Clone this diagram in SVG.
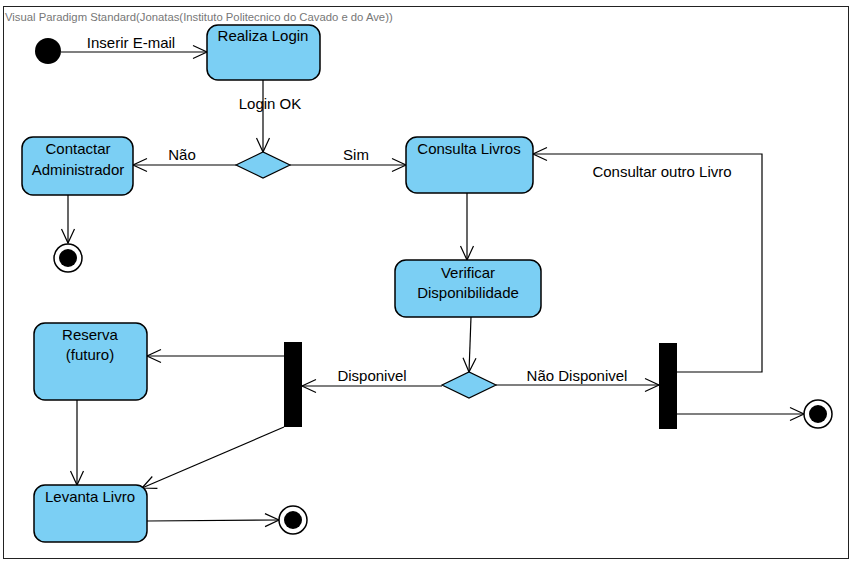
<svg xmlns="http://www.w3.org/2000/svg" width="853" height="565" viewBox="0 0 853 565">
<defs>
<style>
.act{fill:#7bcff4;stroke:#000;stroke-width:1.5}
.dec{fill:#7bcff4;stroke:#000;stroke-width:1.2}
.bar{fill:#000}
.t{font-family:"Liberation Sans",Arial,sans-serif;font-size:15px;fill:#000;text-anchor:middle}
.e{fill:none;stroke:#000;stroke-width:1.2;marker-end:url(#a)}
.fo{fill:#fff;stroke:#000;stroke-width:1.5}
</style>
<marker id="a" viewBox="-16 -8 18 16" refX="0" refY="0" markerWidth="18" markerHeight="16" markerUnits="userSpaceOnUse" orient="auto">
<path d="M-14,-6.5 L0,0 L-14,6.5" fill="none" stroke="#000" stroke-width="1.2"/>
</marker>
</defs>
<rect width="853" height="565" fill="#fff"/>
<rect x="3.5" y="6.5" width="845" height="552" fill="none" stroke="#222" stroke-width="1"/>
<text x="5" y="21" font-family="Liberation Sans,Arial,sans-serif" font-size="11.3" fill="#777">Visual Paradigm Standard(Jonatas(Instituto Politecnico do Cavado e do Ave))</text>

<g id="connectors">
<path class="e" d="M61,52 L207,52"/>
<path class="e" d="M263,80 L263,152"/>
<path class="e" d="M236,165 L133,165"/>
<path class="e" d="M290,165 L406,165"/>
<path class="e" d="M68,195 L68,243"/>
<path class="e" d="M467,193 L467,260"/>
<path class="e" d="M471,317 L469,372"/>
<path class="e" d="M496,385 L659,385"/>
<path class="e" d="M442,386 L302,386"/>
<path class="e" d="M677,372 L762,372 L762,154 L533,154"/>
<path class="e" d="M677,414 L804,414"/>
<path class="e" d="M284,356 L147,356"/>
<path class="e" d="M284,427 L142,488"/>
<path class="e" d="M77,400 L77,485"/>
<path class="e" d="M147,521 L279,520"/>
<text class="t" x="131" y="48">Inserir E-mail</text>
<text class="t" x="270" y="109">Login OK</text>
<text class="t" x="182" y="160">Não</text>
<text class="t" x="356" y="160">Sim</text>
<text class="t" x="662" y="177">Consultar outro Livro</text>
<text class="t" x="372" y="381">Disponivel</text>
<text class="t" x="577" y="381">Não Disponivel</text>
</g>

<g id="start"><circle cx="48" cy="51" r="13" fill="#000"/></g>

<g id="realiza-login"><rect class="act" x="207" y="25" width="113" height="55" rx="11"/><text class="t" x="263" y="41">Realiza Login</text></g>

<g id="decision-login"><path class="dec" d="M236,165 L263,152 L290,165 L263,178 Z"/></g>

<g id="contactar-admin"><rect class="act" x="22" y="137" width="111" height="58" rx="11"/><text class="t" x="78" y="154">Contactar</text><text class="t" x="78" y="175">Administrador</text></g>

<g id="final-1"><circle class="fo" cx="68" cy="258" r="14"/><circle cx="68" cy="258" r="9" fill="#000"/></g>

<g id="consulta-livros"><rect class="act" x="406" y="137" width="127" height="56" rx="11"/><text class="t" x="469" y="154">Consulta Livros</text></g>

<g id="verificar"><rect class="act" x="395" y="260" width="146" height="57" rx="11"/><text class="t" x="468" y="278">Verificar</text><text class="t" x="468" y="298">Disponibilidade</text></g>

<g id="decision-disp"><path class="dec" d="M442,385 L469,372 L496,385 L469,398 Z"/></g>

<g id="bar-right"><rect class="bar" x="659" y="343" width="18" height="86"/></g>

<g id="final-2"><circle class="fo" cx="818" cy="414" r="14"/><circle cx="818" cy="414" r="9" fill="#000"/></g>

<g id="bar-left"><rect class="bar" x="284" y="342" width="18" height="85"/></g>

<g id="reserva"><rect class="act" x="34" y="323" width="113" height="77" rx="11"/><text class="t" x="90" y="340">Reserva</text><text class="t" x="90" y="360">(futuro)</text></g>

<g id="levanta-livro"><rect class="act" x="34" y="485" width="113" height="57" rx="11"/><text class="t" x="90" y="502">Levanta Livro</text></g>

<g id="final-3"><circle class="fo" cx="293" cy="520" r="14"/><circle cx="293" cy="520" r="9" fill="#000"/></g>
</svg>
